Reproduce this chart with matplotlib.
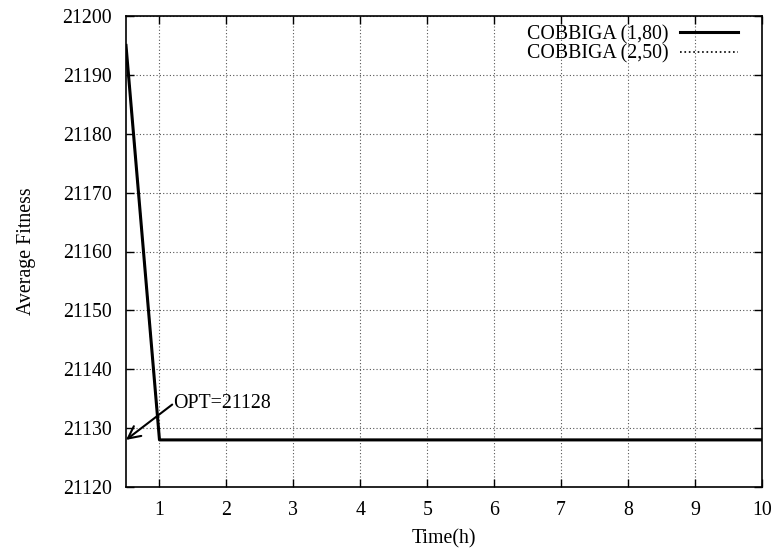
import matplotlib.pyplot as plt

plt.rcParams['font.family'] = ['Liberation Serif', 'DejaVu Serif']
plt.rcParams['font.size'] = 14.3

# data
time_h = [0.5, 1, 2, 3, 4, 5, 6, 7, 8, 9, 10]
fit_1_80 = [21195, 21128, 21128, 21128, 21128, 21128, 21128, 21128, 21128, 21128, 21128]
fit_2_50 = [21195, 21128, 21128, 21128, 21128, 21128, 21128, 21128, 21128, 21128, 21128]
opt_value = 21128

fig = plt.figure(figsize=(7.77, 5.51), dpi=100)
ax = fig.add_axes([126 / 777, 64 / 551, 636 / 777, 471 / 551])

ax.plot(time_h, fit_2_50, ':', color='black', lw=1.2, label='COBBIGA (2,50)')
ax.plot(time_h, fit_1_80, '-', color='black', lw=2.2, label='COBBIGA (1,80)')

ax.set_xlim(0.5, 10)
ax.set_ylim(21120, 21200)
ax.set_xticks(range(1, 11))
ax.set_yticks(range(21120, 21201, 10))
ax.grid(True, linestyle=(0, (1, 2)), color='#555555', lw=0.8)
ax.tick_params(direction='in', top=True, right=True, length=6, width=1)
ax.tick_params(axis='x', pad=10)
ax.tick_params(axis='y', pad=10)
for s in ax.spines.values():
    s.set_linewidth(1.2)

# arrow and label drawn separately
ax.annotate('', xy=(0.5, opt_value), xytext=(1.19, 21134),
            arrowprops=dict(arrowstyle='->', color='black', lw=1.5,
                            shrinkA=0, shrinkB=0, mutation_scale=22))
ax.text(1.21, 21134.2, 'OPT=21128', va='center', ha='left')

ax.set_xlabel('Time(h)', labelpad=7)
ax.set_ylabel('Average Fitness', labelpad=19)

h, l = ax.get_legend_handles_labels()
ax.legend(h[::-1], l[::-1], loc='upper right', frameon=False, markerfirst=False,
          handlelength=2.9, labelspacing=0.0, handletextpad=0.6,
          bbox_to_anchor=(738 / 777, 1 - 25 / 551), bbox_transform=fig.transFigure,
          borderaxespad=0, borderpad=0)

fig.savefig('out.png', dpi=100)
